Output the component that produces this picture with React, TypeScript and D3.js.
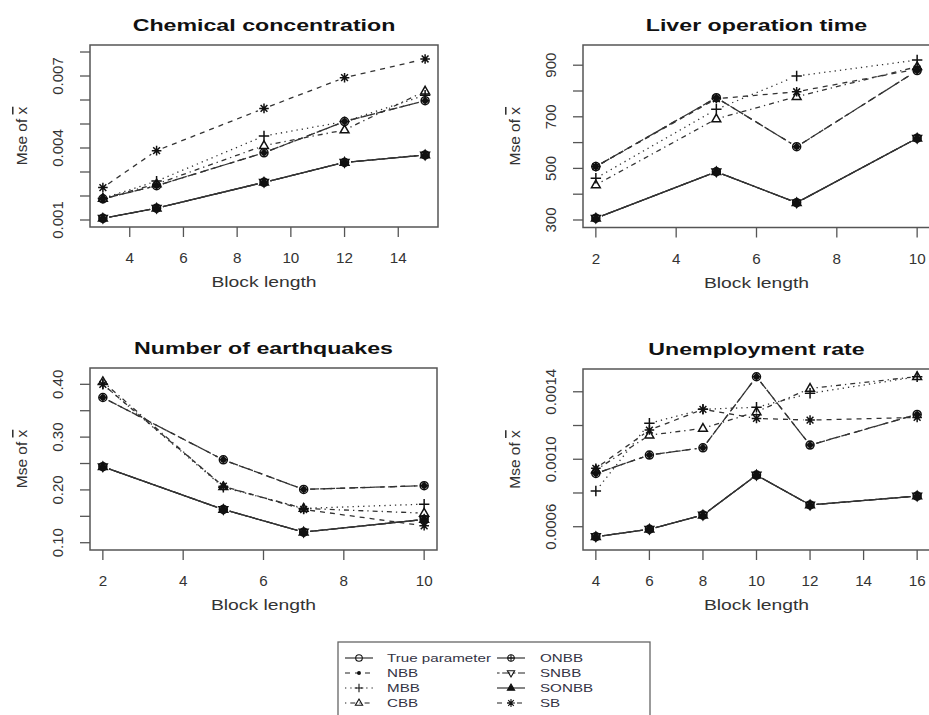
import React from "react";
import * as d3 from "d3";

// ---------- DATA ----------
const seriesNames = ["True parameter", "NBB", "MBB", "CBB", "ONBB", "SNBB", "SONBB", "SB"];

const chemX = [3, 5, 9, 12, 15];
const chemTrue = [0.00107, 0.00149, 0.00257, 0.0034, 0.00371];
const chemNBB = [0.00188, 0.00243, 0.0038, 0.0051, 0.00597];
const chemMBB = [0.0019, 0.00262, 0.0045, 0.0051, 0.0062];
const chemCBB = [0.0019, 0.0025, 0.0041, 0.00475, 0.00637];
const chemONBB = [0.00188, 0.00243, 0.0038, 0.0051, 0.00597];
const chemSNBB = [0.00107, 0.00149, 0.00257, 0.0034, 0.00371];
const chemSONBB = [0.00107, 0.00149, 0.00257, 0.0034, 0.00371];
const chemSB = [0.00235, 0.00389, 0.00565, 0.00693, 0.00771];

const liverX = [2, 5, 7, 10];
const liverTrue = [307, 487, 367, 617];
const liverNBB = [507, 774, 584, 879];
const liverMBB = [462, 729, 858, 920];
const liverCBB = [436, 692, 778, 894];
const liverONBB = [507, 774, 584, 879];
const liverSNBB = [307, 487, 367, 617];
const liverSONBB = [307, 487, 367, 617];
const liverSB = [507, 770, 797, 885];

const quakeX = [2, 5, 7, 10];
const quakeTrue = [0.244, 0.163, 0.12, 0.144];
const quakeNBB = [0.375, 0.257, 0.201, 0.208];
const quakeMBB = [0.4, 0.205, 0.165, 0.173];
const quakeCBB = [0.405, 0.206, 0.165, 0.156];
const quakeONBB = [0.375, 0.257, 0.201, 0.208];
const quakeSNBB = [0.244, 0.163, 0.12, 0.144];
const quakeSONBB = [0.244, 0.163, 0.12, 0.144];
const quakeSB = [0.4, 0.207, 0.163, 0.132];

const unempX = [4, 6, 8, 10, 12, 16];
const unempTrue = [0.000541, 0.000585, 0.000669, 0.000906, 0.000729, 0.000782];
const unempNBB = [0.000916, 0.001025, 0.001068, 0.001489, 0.001084, 0.001266];
const unempMBB = [0.000812, 0.001213, 0.001296, 0.001308, 0.001391, 0.001489];
const unempCBB = [0.000936, 0.001143, 0.001183, 0.001281, 0.00142, 0.00149];
const unempONBB = [0.000916, 0.001025, 0.001068, 0.001489, 0.001084, 0.001266];
const unempSNBB = [0.000541, 0.000585, 0.000669, 0.000906, 0.000729, 0.000782];
const unempSONBB = [0.000541, 0.000585, 0.000669, 0.000906, 0.000729, 0.000782];
const unempSB = [0.000946, 0.001173, 0.001296, 0.001242, 0.001232, 0.001248];

const chemXTicks = [4, 6, 8, 10, 12, 14];
const chemYTicks = [0.001, 0.002, 0.003, 0.004, 0.005, 0.006, 0.007, 0.008];
const chemYLabels = ["0.001", "", "", "0.004", "", "", "0.007", ""];
const liverXTicks = [2, 4, 6, 8, 10];
const liverYTicks = [300, 400, 500, 600, 700, 800, 900];
const liverYLabels = ["300", "", "500", "", "700", "", "900"];
const quakeXTicks = [2, 4, 6, 8, 10];
const quakeYTicks = [0.1, 0.15, 0.2, 0.25, 0.3, 0.35, 0.4];
const quakeYLabels = ["0.10", "", "0.20", "", "0.30", "", "0.40"];
const unempXTicks = [4, 6, 8, 10, 12, 14, 16];
const unempYTicks = [0.0006, 0.0008, 0.001, 0.0012, 0.0014];
const unempYLabels = ["0.0006", "", "0.0010", "", "0.0014"];

// ---------- STYLE ----------
const FONT = "'Liberation Sans', Arial, Helvetica, sans-serif";
const dashes = ["", "5,5", "1.3,4", "1.3,4,5,4", "9,4", "2.6,2.6,8,2.6", "", "5,5"];
const symbols = ["circle", "dot", "plus", "tri", "oplus", "dtri", "ftri", "star"];

type Panel = {
  title: string;
  xs: number[];
  series: number[][];
  xDomain: [number, number];
  yDomain: [number, number];
  box: { x0: number; x1: number; y0: number; y1: number };
  xTicks: number[];
  yTicks: number[];
  yLabels: string[];
};

const panels: Panel[] = [
  {
    title: "Chemical concentration",
    xs: chemX,
    series: [chemTrue, chemNBB, chemMBB, chemCBB, chemONBB, chemSNBB, chemSONBB, chemSB],
    xDomain: [2.52, 15.48],
    yDomain: [0.000708, 0.008292],
    box: { x0: 90, x1: 438, y0: 45, y1: 227 },
    xTicks: chemXTicks,
    yTicks: chemYTicks,
    yLabels: chemYLabels,
  },
  {
    title: "Liver operation time",
    xs: liverX,
    series: [liverTrue, liverNBB, liverMBB, liverCBB, liverONBB, liverSNBB, liverSONBB, liverSB],
    xDomain: [1.68, 10.32],
    yDomain: [270.9, 978.3],
    box: { x0: 583, x1: 930, y0: 45, y1: 227.5 },
    xTicks: liverXTicks,
    yTicks: liverYTicks,
    yLabels: liverYLabels,
  },
  {
    title: "Number of earthquakes",
    xs: quakeX,
    series: [quakeTrue, quakeNBB, quakeMBB, quakeCBB, quakeONBB, quakeSNBB, quakeSONBB, quakeSB],
    xDomain: [1.68, 10.32],
    yDomain: [0.0862, 0.4309],
    box: { x0: 90, x1: 437, y0: 368, y1: 550 },
    xTicks: quakeXTicks,
    yTicks: quakeYTicks,
    yLabels: quakeYLabels,
  },
  {
    title: "Unemployment rate",
    xs: unempX,
    series: [unempTrue, unempNBB, unempMBB, unempCBB, unempONBB, unempSNBB, unempSONBB, unempSB],
    xDomain: [3.52, 16.48],
    yDomain: [0.000462, 0.001535],
    box: { x0: 583, x1: 930, y0: 369, y1: 550 },
    xTicks: unempXTicks,
    yTicks: unempYTicks,
    yLabels: unempYLabels,
  },
];

function T(props: {
  x: number; y: number; sx?: number; rot?: number; size: number; weight?: string;
  anchor?: string; fill?: string; children: React.ReactNode;
}) {
  const { x, y, sx = 1, rot = 0, size, weight = "normal", anchor = "middle", fill = "#222", children } = props;
  return (
    <g transform={`translate(${x},${y}) scale(${sx},1) rotate(${rot})`}>
      <text textAnchor={anchor as any} fontSize={size} fontWeight={weight} fontFamily={FONT} fill={fill}>
        {children}
      </text>
    </g>
  );
}

function Sym({ kind, cx, cy, r, legend }: { kind: string; cx: number; cy: number; r: number; legend?: boolean }) {
  const st = "#111";
  const sw = legend ? 1.1 : 1.5;
  const t = `translate(${cx},${cy})`;
  const up = `M0,${-r * 1.2} L${r * 1.1},${r * 0.7} L${-r * 1.1},${r * 0.7} Z`;
  const dn = `M0,${r * 1.2} L${r * 1.1},${-r * 0.7} L${-r * 1.1},${-r * 0.7} Z`;
  switch (kind) {
    case "circle":
      return <circle cx={cx} cy={cy} r={r} fill="none" stroke={st} strokeWidth={sw} />;
    case "dot":
      return <circle cx={cx} cy={cy} r={legend ? r * 0.6 : r * 0.75} fill={st} />;
    case "plus":
      return <path transform={t} d={`M${-r * 1.3},0H${r * 1.3}M0,${-r * 1.3}V${r * 1.3}`} stroke={st} strokeWidth={sw} />;
    case "tri":
      return <path transform={t} d={up} fill="none" stroke={st} strokeWidth={sw} />;
    case "oplus":
      return (
        <g transform={t}>
          <circle r={r} fill="none" stroke={st} strokeWidth={sw} />
          <path d={`M${-r},0H${r}M0,${-r}V${r}`} stroke={st} strokeWidth={sw} />
        </g>
      );
    case "dtri":
      return <path transform={t} d={dn} fill="none" stroke={st} strokeWidth={sw} />;
    case "ftri":
      return <path transform={t} d={up} fill={st} stroke={st} strokeWidth={sw} />;
    case "star": {
      const a = r * 0.85;
      return (
        <path
          transform={t}
          d={`M${-r * 1.2},0H${r * 1.2}M0,${-r * 1.2}V${r * 1.2}M${-a},${-a}L${a},${a}M${-a},${a}L${a},${-a}`}
          stroke={st}
          strokeWidth={sw}
        />
      );
    }
  }
  return null;
}

function PanelView({ p }: { p: Panel }) {
  const { box } = p;
  const x = d3.scaleLinear().domain(p.xDomain).range([box.x0, box.x1]);
  const y = d3.scaleLinear().domain(p.yDomain).range([box.y1, box.y0]);
  const line = d3.line<[number, number]>().x((d) => d[0]).y((d) => d[1]);
  const gap = 6.5;
  const cx = (box.x0 + box.x1) / 2;
  const cy = (box.y0 + box.y1) / 2;
  return (
    <g>
      {p.series.map((vals, si) => {
        const pts = p.xs.map((xv, i) => [x(xv), y(vals[i])] as [number, number]);
        const segs: string[] = [];
        for (let i = 0; i < pts.length - 1; i++) {
          const [x0, y0] = pts[i];
          const [x1, y1] = pts[i + 1];
          const len = Math.hypot(x1 - x0, y1 - y0);
          if (len <= 2 * gap) continue;
          const ux = (x1 - x0) / len, uy = (y1 - y0) / len;
          segs.push(line([[x0 + ux * gap, y0 + uy * gap], [x1 - ux * gap, y1 - uy * gap]]) as string);
        }
        return (
          <path key={"l" + si} d={segs.join("")} fill="none" stroke="#333" strokeWidth={1.3}
            strokeDasharray={dashes[si] || undefined} />
        );
      })}
      {p.series.map((vals, si) =>
        p.xs.map((xv, i) => (
          <Sym key={`s${si}-${i}`} kind={symbols[si]} cx={x(xv)} cy={y(vals[i])} r={4} />
        ))
      )}
      <rect x={box.x0} y={box.y0} width={box.x1 - box.x0} height={box.y1 - box.y0}
        fill="none" stroke="#555" strokeWidth={1.5} />
      {p.xTicks.map((t) => (
        <g key={"xt" + t}>
          <line x1={x(t)} x2={x(t)} y1={box.y1} y2={box.y1 + 10} stroke="#555" strokeWidth={1.3} />
          <T x={x(t)} y={box.y1 + 36} size={14.5} sx={1.05} fill="#333">{String(t)}</T>
        </g>
      ))}
      {p.yTicks.map((t, i) => (
        <g key={"yt" + i}>
          <line x1={box.x0 - 10} x2={box.x0} y1={y(t)} y2={y(t)} stroke="#555" strokeWidth={1.3} />
          {p.yLabels[i] ? (
            <T x={box.x0 - 27} y={y(t)} rot={-90} size={15} fill="#333">{p.yLabels[i]}</T>
          ) : null}
        </g>
      ))}
      <T x={cx} y={box.y0 - 14} size={16} weight="bold" sx={1.45} fill="#111">{p.title}</T>
      <T x={cx} y={box.y1 + 60} size={14} sx={1.38} fill="#333">Block length</T>
      <g transform={`translate(${box.x0 - 63},${cy}) rotate(-90)`}>
        <text textAnchor="middle" fontSize={15.5} fontFamily={FONT} fill="#333">
          Mse of <tspan textDecoration="overline">x</tspan>
        </text>
      </g>
    </g>
  );
}

function Legend() {
  const rows = [658, 673, 688, 703];
  const cols = [
    { l0: 345, l1: 373, text: 387 },
    { l0: 497, l1: 525, text: 540 },
  ];
  return (
    <g>
      <rect x={338} y={642} width={312} height={90} fill="white" stroke="#666" strokeWidth={1.3} />
      {seriesNames.map((name, i) => {
        const c = cols[Math.floor(i / 4)];
        const ry = rows[i % 4];
        const mid = (c.l0 + c.l1) / 2;
        return (
          <g key={name}>
            <line x1={c.l0} x2={c.l1} y1={ry} y2={ry} stroke="#222" strokeWidth={1.1}
              strokeDasharray={dashes[i] ? (i === 4 ? "" : dashes[i]) : undefined} />
            <Sym kind={symbols[i]} cx={mid} cy={ry} r={3.3} legend />
            <T x={c.text} y={ry + 4} size={11} sx={1.38} anchor="start" fill="#334">{name}</T>
          </g>
        );
      })}
    </g>
  );
}

export default function App() {
  return (
    <svg width={929} height={715} style={{ position: "absolute", left: 0, top: 0, background: "white" }}>
      <rect x={0} y={0} width={929} height={715} fill="white" />
      {panels.map((p) => (
        <PanelView key={p.title} p={p} />
      ))}
      <Legend />
    </svg>
  );
}
